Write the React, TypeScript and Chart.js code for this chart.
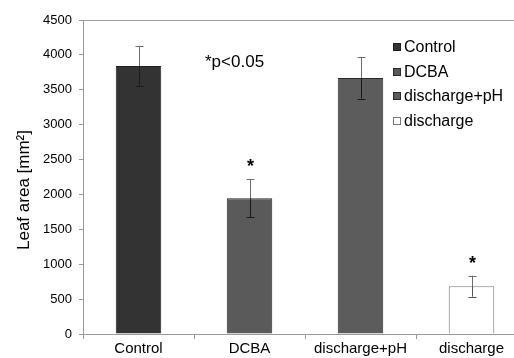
import React, { useEffect, useRef } from "react";
import { Chart, registerables } from "chart.js";

Chart.register(...registerables);

const categories = ["Control", "DCBA", "discharge+pH", "discharge"];
const leafArea = [3840, 1945, 3670, 685];
const leafAreaErr = [290, 275, 295, 150];
const significant = [false, true, false, true];
const yTicksMax = 4500;
const yTickStep = 500;
const yTitle = "Leaf area [mm²]";
const noteText = "*p<0.05";

const fills = ["#333333", "#5a5a5a", "#5c5c5c", "#ffffff"];
const borders = ["#1e1e1e", "#2a2a2a", "#2a2a2a", "#7a7a7a"];
const innerErr = ["#1a1a1a", "#1a1a1a", "#1a1a1a", "#555555"];

const FONT = "'Liberation Sans', Arial, sans-serif";

export default function App() {
  const ref = useRef<HTMLCanvasElement | null>(null);

  useEffect(() => {
    if (!ref.current) return;

    const overlay = {
      id: "overlay",
      beforeDatasetsDraw(chart: any) {
        const { ctx, chartArea } = chart;
        ctx.save();
        ctx.strokeStyle = "#a0a0a0";
        ctx.lineWidth = 1;
        ctx.beginPath();
        ctx.moveTo(chartArea.left, chartArea.top + 0.5);
        ctx.lineTo(chartArea.right, chartArea.top + 0.5);
        ctx.lineTo(chartArea.right - 0.5, chartArea.bottom);
        ctx.stroke();
        ctx.restore();
      },
      afterDatasetsDraw(chart: any) {
        const { ctx, chartArea } = chart;
        const y = chart.scales.y;
        const meta = chart.getDatasetMeta(0);
        ctx.save();
        leafArea.forEach((v, i) => {
          const bar = meta.data[i];
          const x = Math.round(bar.x) + 0.5;
          const yTop = y.getPixelForValue(v + leafAreaErr[i]);
          const yBot = y.getPixelForValue(v - leafAreaErr[i]);
          const yVal = y.getPixelForValue(v);
          ctx.lineWidth = 1;
          ctx.strokeStyle = "#6e6e6e";
          ctx.beginPath();
          ctx.moveTo(x, yTop);
          ctx.lineTo(x, yVal);
          ctx.moveTo(x - 4, Math.round(yTop) + 0.5);
          ctx.lineTo(x + 4, Math.round(yTop) + 0.5);
          ctx.stroke();
          ctx.strokeStyle = innerErr[i];
          ctx.beginPath();
          ctx.moveTo(x, yVal);
          ctx.lineTo(x, yBot);
          ctx.moveTo(x - 4, Math.round(yBot) + 0.5);
          ctx.lineTo(x + 4, Math.round(yBot) + 0.5);
          ctx.stroke();
          if (significant[i]) {
            ctx.fillStyle = "#000";
            ctx.font = `bold 18px ${FONT}`;
            ctx.textAlign = "center";
            ctx.textBaseline = "middle";
            ctx.fillText("*", x, yTop - 12);
          }
        });

        // note
        ctx.fillStyle = "#000";
        ctx.font = `17px ${FONT}`;
        ctx.textAlign = "left";
        ctx.textBaseline = "middle";
        ctx.fillText(noteText, chartArea.left + 122, chartArea.top + 42);

        // legend
        const lx = chartArea.left + 310;
        const ly0 = chartArea.top + 27;
        categories.forEach((c, i) => {
          const ly = ly0 + i * 24.5;
          ctx.fillStyle = fills[i];
          ctx.fillRect(lx, Math.round(ly - 4), 8, 8);
          ctx.strokeStyle = borders[i];
          ctx.lineWidth = 1;
          ctx.strokeRect(lx + 0.5, Math.round(ly - 4) + 0.5, 7, 7);
          ctx.fillStyle = "#000";
          ctx.font = `16px ${FONT}`;
          ctx.textAlign = "left";
          ctx.textBaseline = "middle";
          ctx.fillText(c, lx + 11, ly + 1);
        });

        // y title
        ctx.save();
        ctx.translate(24, 190);
        ctx.rotate(-Math.PI / 2);
        ctx.font = `17px ${FONT}`;
        ctx.textAlign = "center";
        ctx.textBaseline = "middle";
        ctx.fillStyle = "#000";
        ctx.fillText(yTitle, 0, 0);
        ctx.restore();

        ctx.restore();
      },
    };

    const chart = new Chart(ref.current, {
      type: "bar",
      data: {
        labels: categories,
        datasets: [
          {
            label: "Leaf area",
            data: leafArea,
            backgroundColor: fills,
            borderColor: borders,
            borderWidth: 1,
            borderSkipped: "bottom",
            categoryPercentage: 1,
            barPercentage: 0.41,
          },
        ],
      },
      options: {
        animation: false,
        responsive: false,
        maintainAspectRatio: false,
        layout: { padding: { top: 20, right: 13, left: 0, bottom: 0 } },
        plugins: {
          legend: { display: false },
          tooltip: { enabled: false },
          title: { display: false },
        },
        scales: {
          x: {
            afterFit: (s: any) => {
              s.height = 24;
            },
            grid: {
              drawOnChartArea: false,
              offset: true,
              tickLength: 5,
              color: "#999",
            },
            border: { color: "#999" },
            ticks: {
              color: "#000",
              font: { family: FONT, size: 15 },
              padding: 1,
              maxRotation: 0,
            },
          },
          y: {
            min: 0,
            max: yTicksMax,
            afterFit: (s: any) => {
              s.width = 83;
            },
            grid: { drawOnChartArea: false, tickLength: 4, color: "#999" },
            border: { color: "#999" },
            ticks: {
              stepSize: yTickStep,
              color: "#000",
              font: { family: FONT, size: 13 },
              padding: 7,
              callback: (v: any) => String(v),
            },
          },
        },
      },
      plugins: [overlay],
    });

    return () => chart.destroy();
  }, []);

  return (
    <div
      style={{
        position: "fixed",
        left: 0,
        top: 0,
        width: 514,
        height: 358,
        overflow: "hidden",
        background: "#fff",
      }}
    >
      <canvas ref={ref} width={540} height={358} style={{ width: 540, height: 358 }} />
    </div>
  );
}
